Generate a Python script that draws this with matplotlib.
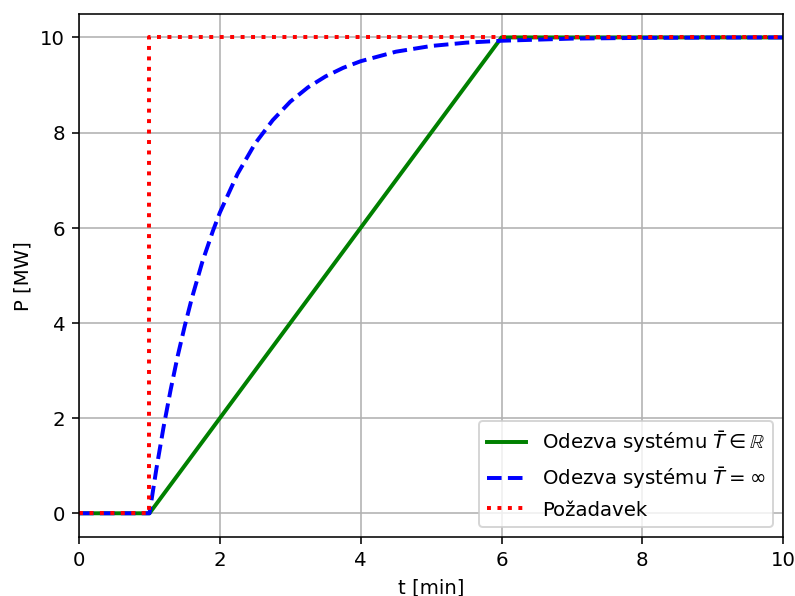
import matplotlib
matplotlib.use("Agg")
import matplotlib.pyplot as plt

# časy a hodnoty
t_pozadavek = [0, 1, 1, 10]
p_pozadavek = [0, 0, 10, 10]

t_ramp = [0, 1, 6, 10]
p_ramp = [0, 0, 10, 10]

t_exp = [0, 1, 1.1, 1.2, 1.3, 1.4, 1.5, 1.6, 1.75, 1.9, 2.0, 2.25, 2.5,
         2.75, 3.0, 3.25, 3.5, 3.75, 4.0, 4.5, 5.0, 5.5, 6.0, 7.0, 8.0,
         9.0, 10.0]
p_exp = [0, 0, 0.95, 1.81, 2.59, 3.30, 3.93, 4.51, 5.28, 5.93, 6.32, 7.13,
         7.77, 8.26, 8.65, 8.95, 9.18, 9.36, 9.50, 9.70, 9.82, 9.89, 9.93,
         9.975, 9.99, 9.997, 9.999]

fig = plt.figure(figsize=(5.6, 4.2), dpi=142)
fig.subplots_adjust(left=0.0994, right=0.985, top=0.9765, bottom=0.0988)
ax = fig.add_subplot(111)

ax.plot(t_ramp, p_ramp, color="green", linewidth=2,
        label=r"Odezva systému $\bar{T} \in \mathbb{R}$")
ax.plot(t_exp, p_exp, color="blue", linewidth=2, linestyle="--",
        label=r"Odezva systému $\bar{T} = \infty$")
ax.plot(t_pozadavek, p_pozadavek, color="red", linewidth=2, linestyle=":",
        label="Požadavek")

ax.set_xlim(0, 10)
ax.set_xlabel("t [min]")
ax.set_ylabel("P [MW]")
ax.grid(True)
ax.legend(loc="lower right")

fig.savefig("out.png", dpi=142)
